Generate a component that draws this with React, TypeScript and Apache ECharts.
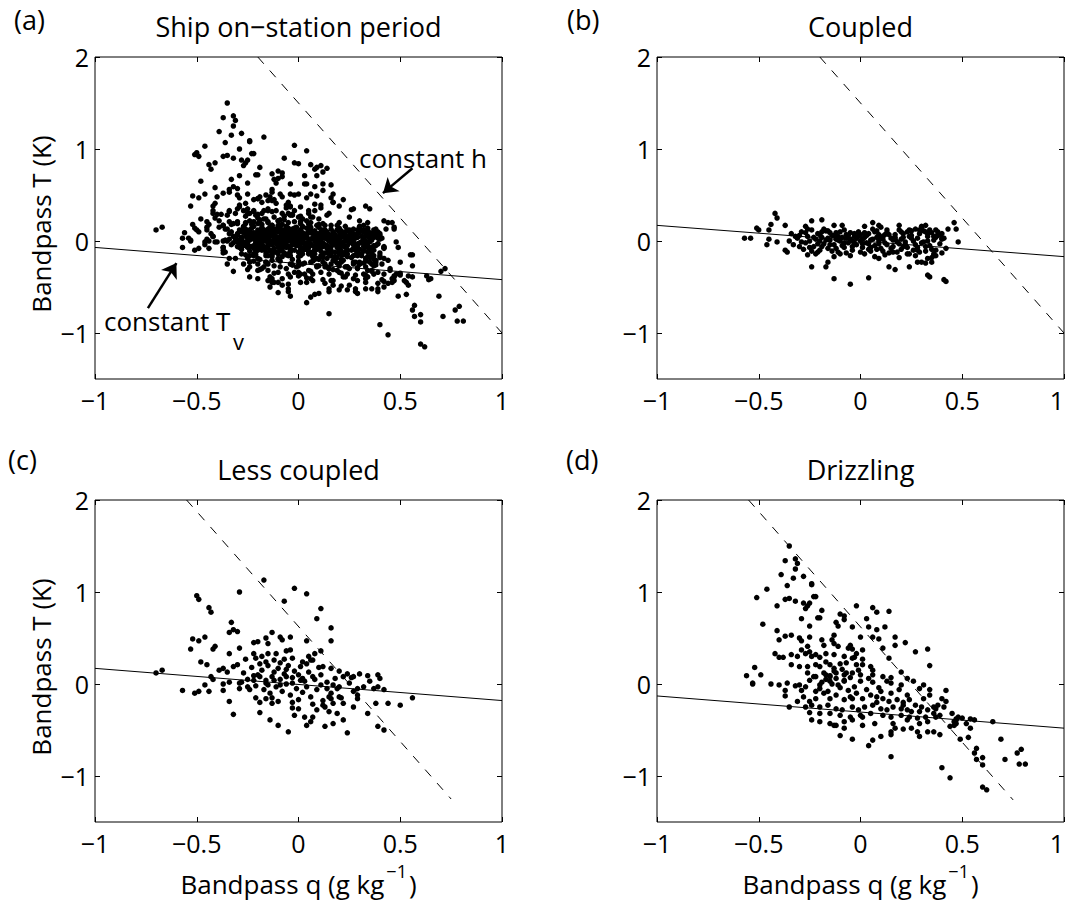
import React, { useEffect, useRef } from "react";
import * as echarts from "echarts";

// ---------- axes / text ----------
const X_TICKS = [-1, -0.5, 0, 0.5, 1];
const Y_TICKS = [-1, 0, 1, 2];
const X_MIN = -1;
const X_MAX = 1;
const Y_MIN = -1.5;
const Y_MAX = 2;
const PANEL_LETTERS = ["(a)", "(b)", "(c)", "(d)"];
const PANEL_TITLES = ["Ship on\u2212station period", "Coupled", "Less coupled", "Drizzling"];
const Y_TITLE = "Bandpass T (K)";
const X_TITLE_MAIN = "Bandpass q (g kg";
const X_TITLE_SUP = "\u22121";
const X_TITLE_END = ")";
const ANNOT_H = "constant h";
const ANNOT_TV = "constant T";
const ANNOT_TV_SUB = "v";

// ---------- reference lines (constant Tv: solid, constant h: dashed) ----------
const TV_LINE_A = [[-1, -0.07], [1, -0.42]];
const TV_LINE_B = [[-1, 0.17], [1, -0.17]];
const TV_LINE_C = [[-1, 0.17], [1, -0.18]];
const TV_LINE_D = [[-1, -0.13], [1, -0.48]];
const H_LINE_A = [[-0.2, 2], [1, -1]];
const H_LINE_B = [[-0.2, 2], [1, -1]];
const H_LINE_C = [[-0.55, 2], [0.75, -1.25]];
const H_LINE_D = [[-0.55, 2], [0.75, -1.26]];
const ARROW_H = [[0.56, 0.79], [0.415, 0.52]];
const ARROW_TV = [[-0.74, -0.73], [-0.6, -0.24]];

// ---------- data: (b) coupled ----------
const B_POINTS = [
  [-0.42, 0.3], [-0.41, 0.25], [-0.24, 0.22], [-0.19, 0.23], [-0.44, 0.18], [-0.37, 0.17], [-0.27, 0.16], [-0.09, 0.17],
  [-0.13, 0.17], [0.06, 0.2], [0.09, 0.17], [0.1, 0.15], [0.02, 0.16], [0.19, 0.17], [0.3, 0.16], [0.32, 0.17], [0.46, 0.2],
  [0.47, 0.13], [0.43, 0.13], [-0.57, 0.03], [-0.54, 0.03], [-0.51, 0.14], [-0.5, 0.12], [-0.45, 0.12], [-0.46, -0.04],
  [-0.45, 0.02], [-0.41, -0.01], [-0.37, -0.1], [-0.36, -0.12], [-0.24, -0.28], [-0.16, -0.23], [-0.17, -0.28], [-0.13, -0.41],
  [-0.05, -0.47], [0.04, -0.4], [0.09, -0.19], [0.14, -0.28], [0.17, -0.31], [0.24, -0.28], [0.33, -0.37], [0.34, -0.39],
  [0.41, -0.42], [0.42, -0.44], [0.3, -0.23], [0.32, -0.24], [0.33, -0.19], [0.35, -0.23], [0.36, -0.16], [0.37, -0.16],
  [0.28, -0.23], [0.48, -0.01], [0.38, 0.07], [0.4, 0.03],
  [-0.34, 0.08], [-0.31, 0.03], [-0.29, 0.1], [-0.27, -0.02], [-0.26, 0.05], [-0.24, 0.12], [-0.23, -0.06], [-0.22, 0.02],
  [-0.21, 0.08], [-0.2, -0.1], [-0.19, 0.04], [-0.18, -0.03], [-0.17, 0.11], [-0.16, -0.08], [-0.15, 0.01], [-0.14, 0.06],
  [-0.13, -0.04], [-0.12, 0.09], [-0.11, -0.12], [-0.1, 0.0], [-0.09, 0.04], [-0.08, -0.07], [-0.07, 0.07], [-0.06, -0.02],
  [-0.05, 0.02], [-0.04, -0.1], [-0.03, 0.05], [-0.02, -0.04], [-0.01, 0.1], [0.0, 0.0], [0.01, -0.07], [0.02, 0.04],
  [0.03, -0.02], [0.04, 0.08], [0.05, -0.11], [0.06, 0.02], [0.07, -0.05], [0.08, 0.11], [0.09, 0.0], [0.1, -0.08],
  [0.11, 0.05], [0.12, -0.02], [0.13, 0.09], [0.14, -0.13], [0.15, 0.03], [0.16, -0.06], [0.17, 0.07], [0.18, -0.01],
  [0.19, 0.12], [0.2, -0.09], [0.21, 0.04], [0.22, -0.04], [0.23, 0.1], [0.24, -0.14], [0.25, 0.06], [0.26, 0.0],
  [0.27, 0.13], [0.28, -0.07], [0.29, 0.08], [0.3, -0.02], [0.31, 0.11], [0.32, -0.11], [0.33, 0.05], [0.34, -0.05],
  [0.35, 0.09], [0.36, 0.01], [0.37, -0.1], [0.38, 0.06], [0.39, -0.03], [0.4, -0.13], [0.41, 0.03],
  [-0.33, -0.04], [-0.3, 0.06], [-0.28, -0.09], [-0.25, 0.0], [-0.22, -0.14], [-0.2, 0.07], [-0.18, 0.13], [-0.16, 0.03],
  [-0.14, -0.11], [-0.12, 0.02], [-0.1, 0.1], [-0.08, -0.02], [-0.06, 0.06], [-0.04, -0.06], [-0.02, 0.03], [0.0, -0.12],
  [0.02, 0.09], [0.04, -0.03], [0.06, 0.13], [0.08, -0.09], [0.1, 0.04], [0.12, -0.15], [0.14, 0.07], [0.16, 0.01],
  [0.18, -0.12], [0.2, 0.1], [0.22, -0.01], [0.24, 0.05], [0.26, -0.1], [0.28, 0.03], [0.3, 0.14], [0.32, -0.06],
  [0.34, 0.12], [0.36, -0.14], [0.38, 0.1], [0.4, 0.02],
  [-0.35, 0.0], [-0.24, -0.11], [-0.19, -0.06], [-0.15, 0.09], [-0.11, 0.05], [-0.07, -0.13], [-0.03, 0.08], [0.01, 0.02],
  [0.05, -0.07], [0.09, 0.07], [0.13, -0.04], [0.17, 0.02], [0.21, -0.06], [0.25, 0.11], [0.29, -0.12], [0.33, 0.0],
  [0.37, 0.04], [-0.13, -0.17], [-0.05, -0.16], [0.07, -0.17], [0.19, -0.18], [0.27, -0.16], [0.35, -0.18], [-0.26, -0.15],
  [-0.32, 0.05], [-0.29, -0.01], [-0.27, 0.09], [-0.25, -0.07], [-0.23, 0.04], [-0.21, -0.03], [-0.19, 0.1], [-0.17, 0.01],
  [-0.15, -0.04], [-0.13, 0.06], [-0.11, 0.01], [-0.09, -0.05], [-0.07, 0.03], [-0.05, 0.09], [-0.03, -0.02], [-0.01, 0.05],
  [0.01, -0.03], [0.03, 0.06], [0.05, 0.01], [0.07, 0.1], [0.09, -0.03], [0.11, 0.02], [0.13, 0.12], [0.15, -0.08],
  [0.17, 0.04], [0.19, -0.03], [0.21, 0.08], [0.23, -0.07], [0.25, 0.03], [0.27, -0.04], [0.29, 0.12], [0.31, -0.01],
  [0.33, 0.08], [0.35, -0.09], [0.37, 0.12], [0.39, 0.07], [-0.3, -0.06], [-0.26, 0.13], [-0.2, 0.0], [-0.16, 0.11],
  [-0.12, -0.08], [-0.08, 0.12], [-0.04, 0.0], [0.0, 0.07], [0.04, -0.09], [0.08, 0.04], [0.12, 0.07], [0.16, -0.12],
  [0.2, 0.02], [0.24, 0.12], [0.28, -0.1], [0.32, 0.1], [0.36, 0.05], [0.4, 0.08], [0.42, -0.08], [-0.21, -0.12],
  [-0.1, -0.14], [0.02, -0.14], [0.11, -0.11], [0.23, -0.14],
];

// ---------- data: (c) less coupled ----------
const C_POINTS = [
  [-0.17, 1.13], [-0.02, 1.04], [0.04, 0.98], [-0.29, 1.0], [-0.5, 0.96], [-0.49, 0.92], [-0.07, 0.9], [-0.44, 0.83],
  [-0.43, 0.78], [0.11, 0.82], [0.09, 0.71], [-0.33, 0.67], [-0.32, 0.59], [-0.3, 0.57], [-0.34, 0.56], [0.16, 0.61],
  [-0.13, 0.56], [-0.52, 0.49], [-0.49, 0.47], [-0.46, 0.51], [-0.42, 0.38], [-0.41, 0.41], [-0.53, 0.38], [-0.29, 0.39],
  [-0.22, 0.45], [-0.2, 0.46], [-0.16, 0.5], [-0.15, 0.44], [-0.09, 0.51], [-0.08, 0.48], [-0.04, 0.51], [0.04, 0.47],
  [0.16, 0.47], [0.11, 0.36], [-0.06, 0.36], [-0.04, 0.37], [-0.11, 0.33], [-0.15, 0.33], [-0.22, 0.33], [-0.34, 0.33],
  [0.08, 0.33], [0.05, 0.3],
  [-0.48, 0.24], [-0.45, 0.21], [-0.39, 0.15], [-0.37, 0.17], [-0.35, 0.13], [-0.32, 0.19], [-0.3, 0.21], [-0.26, 0.27],
  [-0.21, 0.28], [-0.18, 0.3], [-0.16, 0.24], [-0.12, 0.26], [-0.07, 0.27], [-0.03, 0.28], [0.02, 0.24], [0.07, 0.26],
  [0.12, 0.19], [0.16, 0.17], [0.2, 0.14], [0.24, 0.11], [0.27, 0.08], [0.3, 0.11], [0.34, 0.09], [0.39, 0.1],
  [0.4, 0.06], [0.35, 0.03], [0.26, 0.07], [0.22, 0.08],
  [-0.43, 0.08], [-0.42, 0.05], [-0.37, 0.0], [-0.34, 0.02], [-0.29, 0.01], [-0.29, -0.05], [-0.25, -0.03], [-0.22, 0.04],
  [-0.19, 0.08], [-0.16, 0.01], [-0.12, 0.04], [-0.09, -0.01], [-0.06, 0.08], [-0.03, 0.01], [0.01, 0.04], [0.04, -0.03],
  [0.07, 0.08], [0.11, -0.01], [0.14, -0.05], [0.17, -0.01], [0.2, -0.03], [0.29, -0.05], [0.32, -0.03], [0.37, -0.05],
  [0.39, -0.03], [0.42, -0.06], [-0.57, -0.07], [-0.51, -0.1], [-0.49, -0.08], [-0.46, -0.01], [-0.44, -0.08], [-0.37, -0.07],
  [-0.34, -0.19], [-0.32, -0.33], [-0.21, -0.15], [-0.19, -0.2], [-0.19, -0.31], [-0.16, -0.16], [-0.13, -0.21], [-0.1, -0.19],
  [-0.14, -0.39], [-0.1, -0.45], [-0.05, -0.52], [-0.03, -0.26], [-0.02, -0.34], [0.0, -0.27], [0.03, -0.36], [0.04, -0.45],
  [0.07, -0.36], [0.06, -0.41], [0.09, -0.28], [0.12, -0.23], [0.13, -0.46], [0.16, -0.16], [0.17, -0.43], [0.19, -0.32],
  [0.22, -0.21], [0.22, -0.39], [0.24, -0.53], [0.27, -0.25], [0.29, -0.16], [0.29, -0.12], [0.34, -0.32], [0.38, -0.21],
  [0.39, -0.46], [0.42, -0.5], [0.44, -0.21], [0.5, -0.23], [0.56, -0.15], [0.15, -0.14], [0.17, -0.21], [0.2, -0.14],
  [-0.7, 0.12], [-0.67, 0.15],
  [-0.27, 0.12], [-0.25, 0.05], [-0.23, 0.18], [-0.21, -0.02], [-0.2, 0.1], [-0.18, 0.15], [-0.17, -0.06], [-0.16, 0.04],
  [-0.15, 0.2], [-0.14, -0.1], [-0.13, 0.08], [-0.12, 0.13], [-0.11, -0.03], [-0.1, 0.17], [-0.09, 0.05], [-0.08, -0.08],
  [-0.07, 0.11], [-0.06, 0.0], [-0.05, 0.2], [-0.04, -0.12], [-0.03, 0.07], [-0.02, 0.14], [-0.01, -0.05], [0.0, 0.1],
  [0.01, 0.19], [0.02, -0.09], [0.03, 0.03], [0.05, 0.13], [0.06, -0.14], [0.08, 0.05], [0.09, -0.06], [0.11, 0.1],
  [0.12, -0.18], [0.14, 0.02], [0.16, -0.1], [0.18, 0.06], [-0.24, -0.06], [-0.19, 0.22], [-0.13, -0.15], [-0.06, 0.16],
  [0.0, -0.17], [0.04, 0.22], [0.07, -0.22], [0.1, 0.18], [0.13, -0.25], [-0.28, 0.02], [-0.22, 0.09], [-0.15, -0.01],
  [-0.09, 0.23], [-0.03, -0.2], [0.02, 0.06], [0.06, 0.26], [0.15, -0.3], [0.19, -0.05], [0.21, -0.15], [0.25, 0.01],
  [0.27, -0.08],
];

// ---------- data: (d) drizzling ----------
const D_POINTS = [
  [-0.35, 1.5], [-0.37, 1.34], [-0.32, 1.36], [-0.31, 1.31], [-0.32, 1.25], [-0.39, 1.19], [-0.33, 1.15], [-0.28, 1.17],
  [-0.24, 1.09], [-0.24, 1.08], [-0.36, 1.07], [-0.46, 1.03], [-0.51, 0.94], [-0.37, 0.92], [-0.35, 0.93], [-0.32, 0.9],
  [-0.28, 0.88], [-0.26, 0.85], [-0.27, 0.82], [-0.25, 0.88], [-0.23, 0.95], [-0.22, 0.95], [-0.41, 0.85], [-0.19, 0.8],
  [-0.29, 0.71], [-0.21, 0.72], [-0.2, 0.72], [-0.25, 0.63], [-0.48, 0.65], [-0.1, 0.76], [-0.08, 0.74], [-0.08, 0.7],
  [-0.12, 0.67], [-0.11, 0.63], [-0.02, 0.85], [0.06, 0.83], [0.08, 0.78], [0.14, 0.79], [0.03, 0.71], [0.04, 0.62],
  [0.08, 0.59], [0.12, 0.62], [-0.04, 0.62], [0.0, 0.51], [0.06, 0.51], [0.09, 0.49], [0.17, 0.51], [0.17, 0.42],
  [0.22, 0.45], [0.11, 0.39], [0.27, 0.35], [0.33, 0.38], [0.34, 0.2], [0.14, 0.28],
  [-0.41, 0.58], [-0.4, 0.48], [-0.37, 0.52], [-0.34, 0.53], [-0.3, 0.5], [-0.29, 0.47], [-0.25, 0.51], [-0.19, 0.48],
  [-0.18, 0.42], [-0.13, 0.53], [-0.14, 0.48], [-0.13, 0.44], [-0.11, 0.41], [-0.05, 0.42], [-0.06, 0.39], [-0.04, 0.38],
  [-0.02, 0.33], [0.01, 0.37], [-0.42, 0.33], [-0.4, 0.29], [-0.38, 0.29], [-0.34, 0.32], [-0.31, 0.3], [-0.29, 0.37],
  [-0.27, 0.33], [-0.25, 0.35], [-0.24, 0.3], [-0.26, 0.41], [-0.22, 0.32], [-0.2, 0.29], [-0.17, 0.33], [-0.17, 0.24],
  [-0.13, 0.32], [-0.08, 0.3], [-0.04, 0.28], [-0.03, 0.29], [0.01, 0.27], [-0.34, 0.21], [-0.3, 0.19], [-0.26, 0.19],
  [-0.22, 0.21], [-0.2, 0.19], [-0.15, 0.21], [-0.13, 0.17], [-0.1, 0.22], [-0.07, 0.23], [-0.02, 0.21], [0.01, 0.21],
  [0.05, 0.19], [0.06, 0.15], [-0.52, 0.18], [-0.49, 0.1], [-0.56, 0.09], [-0.17, 0.1], [-0.15, 0.08], [-0.22, 0.08],
  [-0.12, 0.12], [-0.08, 0.1], [-0.04, 0.12], [0.0, 0.1], [0.06, 0.1], [0.11, 0.08], [0.15, 0.07], [0.2, 0.13],
  [0.23, 0.06],
  [-0.53, 0.01], [-0.53, 0.0], [-0.44, 0.0], [-0.4, -0.01], [-0.36, 0.01], [-0.37, -0.07], [-0.37, -0.13], [-0.32, -0.02],
  [-0.3, -0.01], [-0.29, -0.07], [-0.25, 0.04], [-0.2, -0.01], [-0.15, 0.03], [-0.08, 0.04], [0.13, 0.03], [0.15, 0.01],
  [0.2, -0.01], [0.26, 0.03], [0.31, -0.01], [0.29, -0.05], [0.34, -0.12], [0.42, -0.07], [0.4, -0.16], [0.42, -0.19],
  [0.38, -0.23], [0.36, -0.25], [0.3, -0.25], [0.27, -0.23], [0.24, -0.17], [0.21, -0.23], [0.18, -0.17], [0.14, -0.19],
  [0.11, -0.16], [0.08, -0.14], [0.05, -0.12], [0.01, -0.16], [-0.02, -0.1], [-0.05, -0.14], [-0.08, -0.17], [-0.12, -0.12],
  [-0.15, -0.16], [-0.18, -0.1], [-0.22, -0.16], [-0.25, -0.19], [-0.28, -0.14], [-0.31, -0.19], [-0.35, -0.25],
  [-0.27, -0.25], [-0.24, -0.23], [-0.2, -0.25], [-0.16, -0.23], [-0.12, -0.27], [-0.09, -0.28], [-0.04, -0.25],
  [-0.01, -0.28], [0.02, -0.25], [0.06, -0.23], [0.1, -0.27], [0.13, -0.28], [0.16, -0.25], [0.2, -0.27], [0.23, -0.28],
  [0.25, -0.3], [0.29, -0.3], [0.33, -0.28], [0.36, -0.32], [0.39, -0.34], [-0.25, -0.31], [-0.2, -0.32], [-0.15, -0.32],
  [-0.1, -0.34], [-0.05, -0.36], [0.0, -0.34], [0.05, -0.32], [0.11, -0.34], [0.15, -0.36], [0.2, -0.34], [0.24, -0.36],
  [0.28, -0.37], [0.32, -0.36], [0.37, -0.36], [0.45, -0.32], [0.47, -0.39], [0.48, -0.36], [0.5, -0.37], [0.47, -0.43],
  [0.46, -0.45], [0.52, -0.43], [0.54, -0.38], [0.56, -0.39], [0.54, -0.48], [0.65, -0.41], [-0.24, -0.39], [-0.2, -0.41],
  [-0.15, -0.43], [-0.12, -0.45], [-0.08, -0.41], [-0.04, -0.39], [0.01, -0.36], [0.07, -0.43], [0.16, -0.43], [0.23, -0.39],
  [0.29, -0.43], [0.33, -0.41], [0.36, -0.52], [0.33, -0.52], [0.29, -0.57], [0.28, -0.52], [0.25, -0.48], [0.21, -0.49],
  [0.17, -0.48], [0.15, -0.52], [0.15, -0.55], [0.1, -0.57], [0.06, -0.61], [0.04, -0.67], [-0.04, -0.6], [-0.1, -0.56],
  [0.39, -0.55], [0.44, -0.46], [0.49, -0.6], [0.53, -0.58], [0.69, -0.6], [0.57, -0.7], [0.56, -0.75], [0.57, -0.82],
  [0.6, -0.88], [0.6, -0.8], [0.71, -0.82], [0.77, -0.75], [0.79, -0.71], [0.78, -0.87], [0.81, -0.87], [0.15, -0.79],
  [0.4, -0.91], [0.44, -1.02], [0.6, -1.12], [0.62, -1.15], [-0.08, -0.48], [-0.13, -0.45], [0.01, -0.45],
  [-0.17, 0.05], [-0.14, 0.0], [-0.12, 0.06], [-0.1, -0.04], [-0.08, 0.03], [-0.06, -0.07], [-0.2, -0.05], [-0.18, 0.12],
  [-0.13, 0.14], [-0.09, 0.16], [-0.16, -0.08], [-0.11, -0.01], [-0.05, 0.07], [-0.03, -0.03], [0.0, 0.03], [0.03, -0.06],
  [0.06, 0.02], [0.09, -0.04], [-0.23, 0.08], [-0.26, 0.12], [-0.19, 0.02], [-0.15, 0.09], [-0.07, 0.12], [-0.01, 0.15],
  [0.04, 0.06], [0.1, -0.08], [0.15, -0.1], [0.19, -0.06], [0.23, -0.12], [-0.22, -0.08], [-0.27, -0.03], [-0.04, -0.16],
  [0.08, -0.2], [0.21, -0.2], [0.31, -0.16], [0.34, -0.06], [0.37, -0.27], [0.41, -0.25], [0.46, -0.41], [0.47, -0.38],
];

// ---------- data: (a) remaining on-station points not in (b)-(d) ----------
const A_EXTRA_POINTS = [
  [-0.13, 0.73], [-0.1, 0.68], [0.09, 0.8], [0.12, 0.75], [0.0, 0.84], [-0.2, 0.46], [0.03, 0.62], [0.17, 0.42],
  [0.2, 0.38], [0.35, 0.35], [0.26, 0.34], [0.42, 0.22], [0.44, 0.2], [0.47, 0.15], [0.49, -0.07], [0.55, -0.15],
  [0.56, -0.27], [0.63, -0.38], [0.64, -0.42], [0.7, -0.33], [0.72, -0.3],
  [-0.28, 0.04], [-0.26, -0.01], [-0.25, 0.09], [-0.23, 0.14], [-0.22, -0.05], [-0.21, 0.03], [-0.19, 0.07], [-0.18, -0.02],
  [-0.17, 0.12], [-0.16, 0.0], [-0.15, -0.06], [-0.14, 0.05], [-0.13, 0.1], [-0.12, -0.01], [-0.11, 0.13], [-0.1, -0.07],
  [-0.09, 0.02], [-0.08, 0.08], [-0.07, -0.03], [-0.06, 0.11], [-0.05, -0.06], [-0.04, 0.04], [-0.03, 0.09], [-0.02, -0.01],
  [-0.01, 0.06], [0.0, -0.05], [0.01, 0.12], [0.02, 0.01], [0.03, -0.09], [0.04, 0.05], [0.05, 0.1], [0.06, -0.03],
  [0.07, 0.03], [0.08, -0.06], [0.09, 0.08], [0.1, 0.01], [0.11, -0.04], [0.12, 0.12], [0.13, 0.04], [0.14, -0.08],
  [0.15, 0.07], [0.16, -0.02], [0.17, 0.1], [0.18, 0.02], [0.19, -0.07], [0.2, 0.05], [0.21, -0.11], [0.22, 0.08],
  [0.23, 0.0], [0.24, -0.05], [0.25, 0.12], [0.26, 0.03], [0.27, -0.09], [0.28, 0.06], [0.29, -0.03], [0.3, 0.1],
  [0.31, -0.14], [0.32, 0.02], [0.33, -0.07], [0.34, 0.14], [0.35, -0.01], [0.36, -0.11], [0.37, 0.08], [0.38, -0.05],
  [0.39, 0.03],
  [-0.27, 0.15], [-0.24, 0.01], [-0.2, 0.12], [-0.17, -0.09], [-0.14, 0.15], [-0.11, 0.04], [-0.08, -0.11], [-0.05, 0.14],
  [-0.02, 0.03], [0.01, -0.1], [0.04, 0.14], [0.07, -0.12], [0.1, 0.15], [0.13, -0.13], [0.16, 0.13], [0.19, 0.0],
  [0.22, -0.15], [0.25, -0.02], [0.28, -0.15], [0.31, 0.05], [0.34, -0.17], [0.37, -0.2], [0.4, -0.18], [-0.3, 0.08],
  [-0.33, 0.18], [-0.36, 0.13], [-0.39, 0.22], [-0.42, 0.05], [-0.45, 0.15],
  [-0.22, -0.22], [-0.18, -0.3], [-0.15, -0.25], [-0.12, -0.35], [-0.09, -0.22], [-0.06, -0.3], [-0.03, -0.26], [0.0, -0.38],
  [0.03, -0.24], [0.06, -0.33], [0.09, -0.27], [0.12, -0.42], [0.15, -0.3], [0.18, -0.22], [0.21, -0.35], [0.24, -0.28],
  [0.27, -0.41], [0.3, -0.25], [0.33, -0.45], [0.36, -0.33], [0.39, -0.52], [0.42, -0.36], [0.45, -0.3], [0.5, -0.35],
  [0.53, -0.45], [-0.05, -0.55], [0.08, -0.58], [0.2, -0.53], [0.28, -0.55], [-0.14, -0.5],
  [-0.25, 0.3], [-0.2, 0.25], [-0.15, 0.35], [-0.1, 0.22], [-0.05, 0.3], [0.0, 0.26], [0.05, 0.33], [0.1, 0.24],
  [0.15, 0.3], [0.2, 0.2], [0.25, 0.26], [0.3, 0.22], [-0.3, 0.35], [-0.35, 0.28], [-0.12, 0.45], [0.08, 0.4],
  [-0.02, 0.5], [0.12, 0.55],
  [-0.29, 0.12], [-0.27, -0.05], [-0.24, 0.07], [-0.22, 0.16], [-0.2, -0.08], [-0.19, 0.01], [-0.17, 0.06], [-0.15, 0.13],
  [-0.14, -0.03], [-0.12, 0.07], [-0.1, 0.14], [-0.09, -0.1], [-0.07, 0.0], [-0.06, 0.07], [-0.04, -0.09], [-0.03, 0.13],
  [-0.01, -0.02], [0.0, 0.08], [0.02, 0.15], [0.03, 0.04], [0.05, -0.05], [0.06, 0.09], [0.08, 0.0], [0.09, -0.09],
  [0.11, 0.09], [0.12, -0.06], [0.14, 0.1], [0.15, 0.0], [0.17, -0.04], [0.18, 0.07], [0.2, -0.12], [0.21, 0.11],
  [0.23, 0.04], [0.24, -0.1], [0.26, 0.08], [0.27, -0.01], [0.29, 0.04], [0.3, -0.09], [0.32, 0.12], [0.33, -0.02],
  [0.35, 0.06], [0.36, -0.07], [0.38, 0.13], [-0.33, 0.1], [-0.31, 0.0], [-0.26, 0.2], [-0.18, 0.18], [-0.08, 0.18],
  [0.05, 0.19], [0.13, 0.17], [0.23, 0.16], [-0.16, -0.13], [-0.06, -0.15], [0.05, -0.14], [0.16, -0.16], [0.26, -0.18],
  [-0.24, -0.16], [0.33, -0.22], [-0.2, -0.19], [-0.1, -0.2], [0.0, -0.22], [0.1, -0.2], [0.19, -0.24], [0.29, -0.29],
  [0.38, -0.26],
];

const A_POINTS = [...A_EXTRA_POINTS, ...B_POINTS, ...C_POINTS, ...D_POINTS];

// ---------- layout ----------
const FONT = '"Open Sans", "Noto Sans", sans-serif';
const GRID_POS = [
  { left: 95, top: 57 },
  { left: 657, top: 57 },
  { left: 95, top: 500 },
  { left: 657, top: 500 },
];
const GRID_W = 407;
const GRID_H = 322;

const PANELS = [
  { points: A_POINTS, tv: TV_LINE_A, h: H_LINE_A },
  { points: B_POINTS, tv: TV_LINE_B, h: H_LINE_B },
  { points: C_POINTS, tv: TV_LINE_C, h: H_LINE_C },
  { points: D_POINTS, tv: TV_LINE_D, h: H_LINE_D },
];

const fmt = (v: number) => String(v).replace("-", "\u2212");

function measure(text: string, size: number) {
  const ctx = document.createElement("canvas").getContext("2d");
  if (!ctx) return text.length * size * 0.5;
  ctx.font = `${size}px "Open Sans"`;
  return ctx.measureText(text).width;
}

function buildOption() {
  const grid: any[] = [];
  const xAxis: any[] = [];
  const yAxis: any[] = [];
  const series: any[] = [];
  const graphic: any[] = [];

  PANELS.forEach((p, i) => {
    const g = GRID_POS[i];
    grid.push({
      left: g.left, top: g.top, width: GRID_W, height: GRID_H,
      show: true, borderColor: "#000", borderWidth: 1, backgroundColor: "transparent",
      containLabel: false, outerBoundsMode: "none",
    });
    const tick = { show: true, inside: true, length: 5, lineStyle: { color: "#000", width: 1 } };
    const noLine = { show: false, onZero: false };
    const rightColumn = i % 2 === 1;
    xAxis.push({
      type: "value", gridIndex: i, min: X_MIN, max: X_MAX, interval: 0.5, position: "bottom",
      axisLine: noLine, splitLine: { show: false },
      axisTick: tick,
      axisLabel: {
        color: "#000", fontSize: 25, fontFamily: FONT, margin: 8, formatter: fmt, customValues: X_TICKS,
        ...(rightColumn ? { alignMaxLabel: "right" } : {}),
      },
    });
    xAxis.push({
      type: "value", gridIndex: i, min: X_MIN, max: X_MAX, interval: 0.5, position: "top",
      axisLine: noLine, splitLine: { show: false },
      axisTick: tick, axisLabel: { show: false },
    });
    yAxis.push({
      type: "value", gridIndex: i, min: Y_MIN, max: Y_MAX, position: "left",
      axisLine: noLine, splitLine: { show: false },
      axisTick: { ...tick, customValues: Y_TICKS },
      axisLabel: { color: "#000", fontSize: 25, fontFamily: FONT, margin: 6, formatter: fmt, customValues: Y_TICKS },
    });
    yAxis.push({
      type: "value", gridIndex: i, min: Y_MIN, max: Y_MAX, position: "right",
      axisLine: noLine, splitLine: { show: false },
      axisTick: { ...tick, customValues: Y_TICKS }, axisLabel: { show: false },
    });

    const scatter: any = {
      type: "scatter", xAxisIndex: 2 * i, yAxisIndex: 2 * i, data: p.points,
      symbol: "circle", symbolSize: 5.5, itemStyle: { color: "#000", opacity: 1 }, silent: true,
    };
    if (i === 0) {
      scatter.markLine = {
        silent: true, symbol: ["none", "arrow"], symbolSize: 14, animation: false,
        lineStyle: { color: "#000", width: 2.5, type: "solid", opacity: 1 }, label: { show: false },
        data: [
          [{ coord: ARROW_H[0] }, { coord: ARROW_H[1] }],
          [{ coord: ARROW_TV[0] }, { coord: ARROW_TV[1] }],
        ],
      };
    }
    series.push(scatter);
    series.push({
      type: "line", xAxisIndex: 2 * i, yAxisIndex: 2 * i, data: p.tv, symbol: "none", silent: true,
      lineStyle: { color: "#000", width: 1 },
    });
    series.push({
      type: "line", xAxisIndex: 2 * i, yAxisIndex: 2 * i, data: p.h, symbol: "none", silent: true,
      lineStyle: { color: "#000", width: 1, type: [9, 9] },
    });
  });

  const txt = (text: string, x: number, y: number, size: number, align = "center", extra: any = {}) => ({
    type: "text", x, y, silent: true, ...extra,
    style: { text, fill: "#000", fontSize: size, fontFamily: FONT, align, verticalAlign: "middle" },
  });

  // panel letters and titles
  const LETTER_POS = [[14, 19], [567, 19], [8, 459], [566, 459]];
  PANEL_LETTERS.forEach((l, i) => graphic.push(txt(l, LETTER_POS[i][0], LETTER_POS[i][1], 27, "left")));
  PANEL_TITLES.forEach((t, i) => {
    const g = GRID_POS[i];
    graphic.push(txt(t, g.left + GRID_W / 2, g.top - 31, 27));
  });
  // y titles (left column)
  [0, 2].forEach((i) => {
    const g = GRID_POS[i];
    graphic.push(txt(Y_TITLE, 41, g.top + GRID_H / 2 + 6, 26, "center", { rotation: Math.PI / 2 }));
  });
  // x titles (bottom row) with superscript
  const wMain = measure(X_TITLE_MAIN, 26);
  const wSup = measure(X_TITLE_SUP, 18);
  const wEnd = measure(X_TITLE_END, 26);
  const total = wMain + wSup + wEnd + 4;
  [2, 3].forEach((i) => {
    const g = GRID_POS[i];
    const cx = g.left + GRID_W / 2;
    const x0 = cx - total / 2;
    const y = g.top + GRID_H + 62;
    graphic.push(txt(X_TITLE_MAIN, x0, y, 26, "left"));
    graphic.push(txt(X_TITLE_SUP, x0 + wMain + 2, y - 13, 18, "left"));
    graphic.push(txt(X_TITLE_END, x0 + wMain + wSup + 4, y, 26, "left"));
  });
  // annotations (panel a)
  graphic.push(txt(ANNOT_H, 359, 158, 26, "left"));
  graphic.push(txt(ANNOT_TV, 104, 321, 26, "left"));
  graphic.push(txt(ANNOT_TV_SUB, 233, 341, 22, "left"));

  return { animation: false, backgroundColor: "#fff", grid, xAxis, yAxis, series, graphic };
}

export default function App() {
  const ref = useRef<HTMLDivElement>(null);
  useEffect(() => {
    document.body.style.margin = "0";
    if (!ref.current) return;
    const chart = echarts.init(ref.current, undefined, { renderer: "svg" });
    chart.setOption(buildOption() as any);
    return () => chart.dispose();
  }, []);
  return <div ref={ref} style={{ width: 1069, height: 903 }} />;
}
